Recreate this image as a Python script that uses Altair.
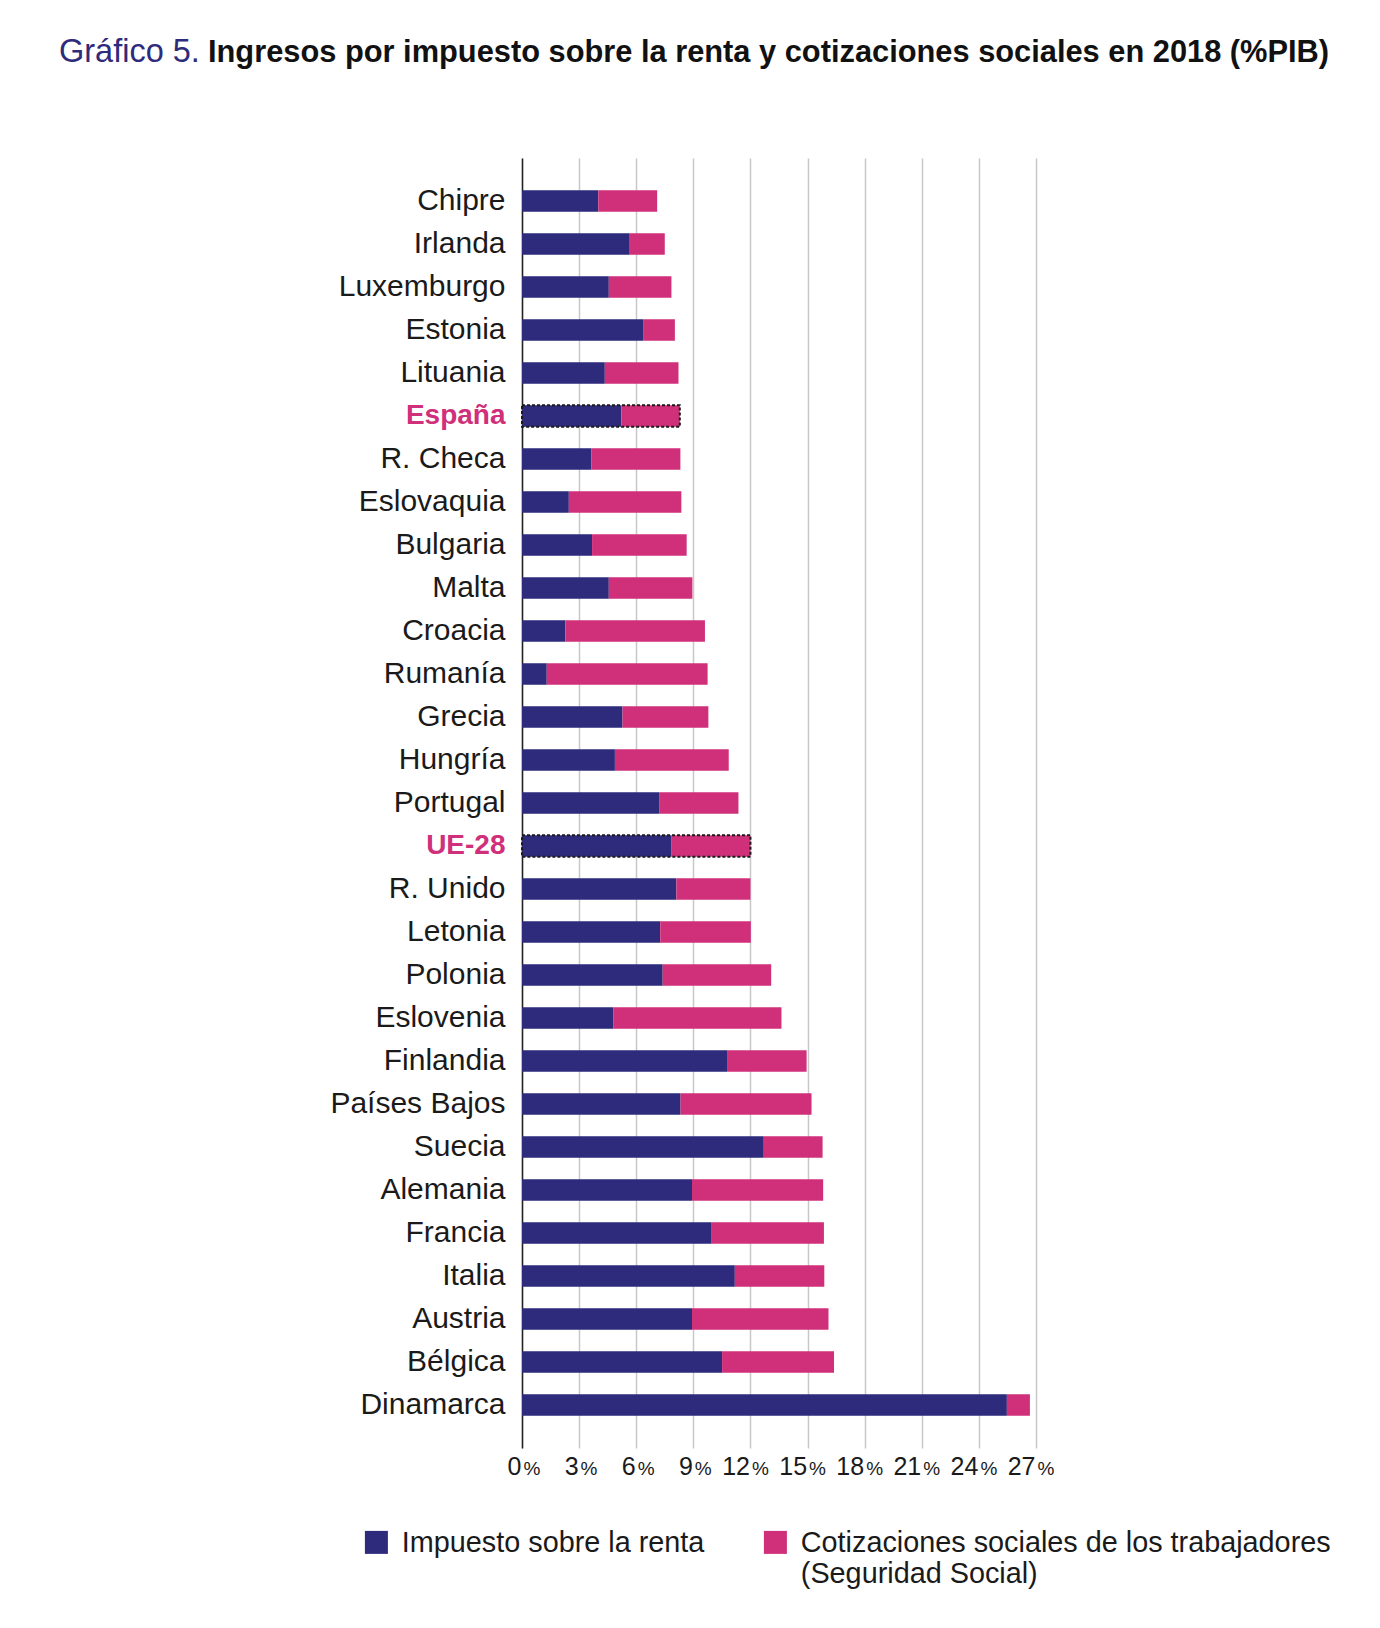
import altair as alt
import pandas as pd

# ---------------- data ----------------
PAISES = ["Chipre", "Irlanda", "Luxemburgo", "Estonia", "Lituania", "España",
          "R. Checa", "Eslovaquia", "Bulgaria", "Malta", "Croacia", "Rumanía",
          "Grecia", "Hungría", "Portugal", "UE-28", "R. Unido", "Letonia",
          "Polonia", "Eslovenia", "Finlandia", "Países Bajos", "Suecia",
          "Alemania", "Francia", "Italia", "Austria", "Bélgica", "Dinamarca"]
RENTA = [4.01, 5.66, 4.56, 6.36, 4.35, 5.22, 3.65, 2.46, 3.68, 4.56, 2.28, 1.30,
         5.28, 4.88, 7.23, 7.86, 8.11, 7.26, 7.39, 4.79, 10.77, 8.33, 12.70,
         8.93, 9.93, 11.18, 8.93, 10.51, 25.47]
COTIZ = [3.09, 1.84, 3.29, 1.67, 3.87, 3.07, 4.67, 5.91, 4.97, 4.39, 7.33, 8.45,
         4.51, 5.98, 4.14, 4.14, 3.89, 4.76, 5.70, 8.84, 4.18, 6.88, 3.09,
         6.89, 5.93, 4.70, 7.17, 5.88, 1.21]
DESTACADOS = ["España", "UE-28"]
SERIES = ["Impuesto sobre la renta",
          "Cotizaciones sociales de los trabajadores (Seguridad Social)"]
TICKS = [0, 3, 6, 9, 12, 15, 18, 21, 24, 27]
TITULO_NUM = ["Gráfico 5."]
TITULO = ["Ingresos por impuesto sobre la renta y cotizaciones sociales en 2018 (%PIB)"]

BLUE = "#2e2a7c"
PINK = "#d0307a"
INK = "#1a1a1a"
FONT = "Liberation Sans"

rows = []
for p, r, c in zip(PAISES, RENTA, COTIZ):
    rows.append({"pais": p, "serie": SERIES[0], "valor": r, "orden": 0})
    rows.append({"pais": p, "serie": SERIES[1], "valor": c, "orden": 1})
long_df = pd.DataFrame(rows)

wide_df = pd.DataFrame({"pais": PAISES, "renta": RENTA, "cotiz": COTIZ})
wide_df["total"] = wide_df["renta"] + wide_df["cotiz"]
hl_df = wide_df[wide_df["pais"].isin(DESTACADOS)]

W, H = 514, 1290
xscale = alt.Scale(domain=[0, 27], nice=False, zero=True)
hl_test = "datum.value == 'España' || datum.value == 'UE-28'"

y_enc = alt.Y(
    "pais:N", sort=PAISES, title=None,
    scale=alt.Scale(paddingInner=0.5, paddingOuter=0.75),
    axis=alt.Axis(
        domain=True, domainColor="#222222", domainWidth=1.5,
        ticks=False, grid=False, labelPadding=17, labelLimit=0,
        labelFont=FONT,
        labelFontSize={"condition": {"test": hl_test, "value": 28}, "value": 30},
        labelColor={"condition": {"test": hl_test, "value": PINK}, "value": INK},
        labelFontWeight={"condition": {"test": hl_test, "value": "bold"}, "value": "normal"},
    ),
)

legend_expr = ("datum.label == '" + SERIES[1] + "' ? "
               "['Cotizaciones sociales de los trabajadores', '(Seguridad Social)'] : "
               "[datum.label, '']")

bars = alt.Chart(long_df).mark_bar().encode(
    x=alt.X("valor:Q", stack="zero", scale=xscale, title=None,
            axis=alt.Axis(values=TICKS, orient="bottom", grid=True,
                          gridColor="#c8c8c8", gridWidth=1.5, domain=False,
                          ticks=False, tickSize=0, labelFont=FONT, labelFontSize=25,
                          labelColor=INK, labelAlign="right", labelBaseline="alphabetic",
                          labelPadding=26, labelOffset=-1, labelExpr="datum.value")),
    y=y_enc,
    color=alt.Color("serie:N", scale=alt.Scale(domain=SERIES, range=[BLUE, PINK]),
                    legend=alt.Legend(
                        title=None, orient="none", legendX=-160, legendY=1380,
                        direction="horizontal", columns=2, columnPadding=56,
                        symbolType="M-1,-1.87H1V0.13H-1Z", symbolSize=529,
                        symbolStrokeWidth=0, symbolOpacity=1,
                        labelFont=FONT, labelFontSize=28.8, labelColor=INK,
                        labelOffset=11, labelLimit=0, labelBaseline="alphabetic",
                        labelExpr=legend_expr, padding=0)),
    order=alt.Order("orden:Q"),
)

outline = alt.Chart(hl_df).mark_bar(
    filled=False, stroke="#1a1a1a", strokeWidth=2, strokeDash=[3, 2]
).encode(
    x=alt.X("total:Q", scale=xscale, title=None,
            axis=alt.Axis(values=TICKS, orient="bottom", grid=False, domain=False,
                          ticks=False, tickSize=0, labelFont=FONT, labelFontSize=19,
                          labelColor=INK, labelAlign="left", labelBaseline="alphabetic",
                          labelPadding=26, labelOffset=1, labelExpr="'%'")),
    y=y_enc,
)

t1 = alt.Chart(pd.DataFrame({"t": TITULO_NUM})).mark_text(
    align="left", baseline="alphabetic", font=FONT, fontSize=32.5, color=BLUE
).encode(text="t:N", x=alt.value(-463), y=alt.value(-96))

t2 = alt.Chart(pd.DataFrame({"t": TITULO})).mark_text(
    align="left", baseline="alphabetic", font=FONT, fontSize=30.8,
    fontWeight="bold", color="#111111"
).encode(text="t:N", x=alt.value(-314), y=alt.value(-96))

chart = alt.layer(bars, outline, t1, t2).resolve_axis(x="independent").properties(
    width=W, height=H,
    padding={"left": 51, "top": 28, "right": 5, "bottom": 5},
    background="white",
).configure_view(stroke=None)

chart.save("out.html", embed_options={"renderer": "svg", "actions": False})
